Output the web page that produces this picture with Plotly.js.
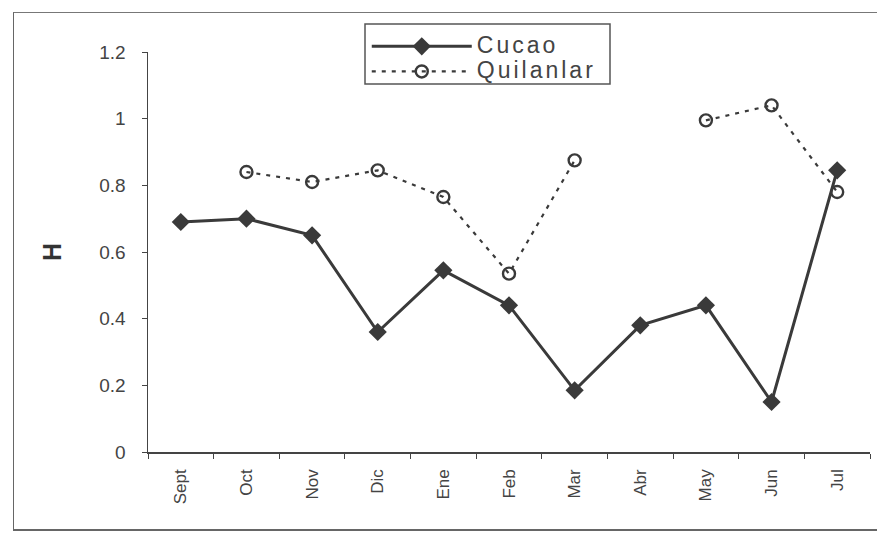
<!DOCTYPE html>
<html>
<head>
<meta charset="utf-8">
<script src="https://cdn.plot.ly/plotly-3.0.1.min.js"></script>
<style>
  html, body { margin: 0; padding: 0; background: #fff; }
  #chart { width: 877px; height: 536px; }
  #frame { position: absolute; left: 13px; top: 12px; width: 900px; height: 516px;
           border-left: 1.5px solid #666; border-top: 1.5px solid #777; border-bottom: 2px solid #666;
           pointer-events: none; }
  #chart .legend .legendtext { font-size: 23px !important; letter-spacing: 3px; }
  #chart .legend, #chart .legend g, #chart .legend .scrollbox { clip-path: none !important; }
</style>
</head>
<body>
<div id="chart"></div>
<div id="frame"></div>
<script>
const months = ["Sept", "Oct", "Nov", "Dic", "Ene", "Feb", "Mar", "Abr", "May", "Jun", "Jul"];
const cucao = [0.69, 0.70, 0.65, 0.36, 0.545, 0.44, 0.185, 0.38, 0.44, 0.15, 0.845];
const quilanlar = [null, 0.84, 0.81, 0.845, 0.765, 0.535, 0.875, null, 0.995, 1.04, 0.78];
const yTicks = [0, 0.2, 0.4, 0.6, 0.8, 1, 1.2];

const ink = "#3a3a3a";
const traces = [
  {
    x: months, y: cucao, name: "Cucao", type: "scatter", mode: "lines+markers",
    line: { color: ink, width: 3 },
    marker: { symbol: "diamond", size: 14, color: ink }
  },
  {
    x: months, y: quilanlar, name: "Quilanlar", type: "scatter", mode: "lines+markers",
    connectgaps: false,
    line: { color: ink, width: 2.2, dash: "4px,6px" },
    marker: { symbol: "circle-open", size: 12, color: ink, line: { width: 2.4, color: ink } }
  }
];

const layout = {
  width: 877, height: 536,
  margin: { l: 148, r: 7, t: 52, b: 84 },
  paper_bgcolor: "#fff", plot_bgcolor: "#fff",
  font: { family: "Liberation Sans, Arial, sans-serif", color: "#444", size: 17 },
  showlegend: true,
  legend: {
    x: 0.303, y: 1.058, xanchor: "left", yanchor: "top",
    bgcolor: "rgba(0,0,0,0)", borderwidth: 0,
    font: { size: 17, color: "#444" },
    itemwidth: 100, tracegroupgap: 0
  },
  shapes: [
    { type: "rect", xref: "paper", yref: "paper", layer: "above",
      x0: (365 - 148) / 722, x1: (610 - 148) / 722,
      y0: (452 - 84) / 400, y1: (452 - 24) / 400,
      line: { color: "#555", width: 1.5 }, fillcolor: "rgba(0,0,0,0)" }
  ],
  xaxis: {
    type: "category", categoryorder: "array", categoryarray: months,
    range: [-0.5, 10.5],
    showline: true, linecolor: "#444", linewidth: 1.5,
    ticks: "outside", tickson: "boundaries", ticklen: 5, tickcolor: "#444",
    tickangle: -90, ticklabelstandoff: 9, tickfont: { size: 17, color: "#444" },
    showgrid: false, zeroline: false, fixedrange: true
  },
  yaxis: {
    range: [0, 1.2], tickvals: yTicks, ticktext: yTicks.map(String),
    showline: true, linecolor: "#444", linewidth: 1.5,
    ticks: "outside", ticklen: 5, tickcolor: "#444",
    ticklabelstandoff: 12,
    tickfont: { size: 19, color: "#444" },
    showgrid: false, zeroline: false, fixedrange: true,
    title: { text: "<b>H</b>", font: { size: 25, color: "#333" }, standoff: 30 }
  }
};

Plotly.newPlot("chart", traces, layout, { displayModeBar: false, staticPlot: true });
</script>
</body>
</html>
